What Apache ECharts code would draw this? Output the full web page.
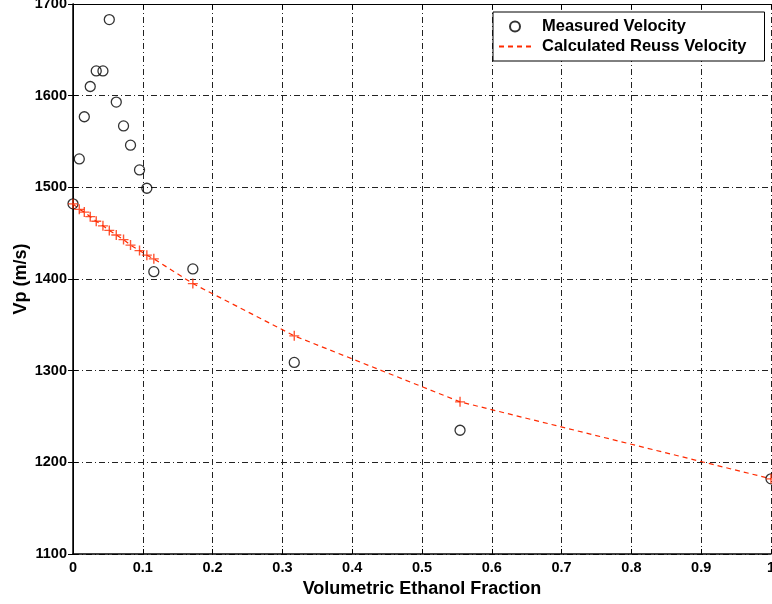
<!DOCTYPE html>
<html>
<head>
<meta charset="utf-8">
<script src="https://cdn.jsdelivr.net/npm/echarts@6/dist/echarts.min.js"></script>
<style>
  html, body { margin: 0; padding: 0; background: #fff; }
  #chart { width: 772px; height: 604px; }
</style>
</head>
<body>
<div id="chart"></div>
<script>
// ethanol fraction of each sample
var fraction = [0, 0.009, 0.0162, 0.0247, 0.0333, 0.0429, 0.052, 0.062, 0.0724,
                0.0824, 0.0953, 0.1058, 0.1158, 0.1717, 0.317, 0.5545, 1];
var measured = [1482, 1531, 1577, 1610, 1627, 1627, 1683, 1593, 1567,
                1546, 1519, 1499, 1408, 1411, 1309, 1235, 1182];
var reuss = [1482, 1476, 1473, 1468, 1463, 1458, 1453, 1448, 1443,
             1437, 1431, 1426, 1422, 1395, 1338, 1266, 1182];
var seriesNames = ['Measured Velocity', 'Calculated Reuss Velocity'];

var font = 'Liberation Sans, Arial, Helvetica, sans-serif';
var gridDash = [6, 3, 1, 3];

function pairs(xs, ys) {
    var out = [];
    for (var i = 0; i < xs.length; i++) out.push([xs[i], ys[i]]);
    return out;
}

var chart = echarts.init(document.getElementById('chart'));
chart.setOption({
    animation: false,
    backgroundColor: '#fff',
    grid: { left: 73, right: 1, top: 4, bottom: 50, outerBoundsMode: 'none', containLabel: false },
    legend: {
        data: [
            { name: seriesNames[0] },
            { name: seriesNames[1], itemStyle: { color: 'rgba(0,0,0,0)', borderWidth: 0, opacity: 0 } }
        ],
        orient: 'vertical',
        left: 493,
        top: 12,
        padding: [6, 18, 6, 5],
        itemWidth: 32,
        itemHeight: 10,
        itemGap: 3,
        backgroundColor: '#fff',
        borderColor: '#000',
        borderWidth: 1,
        textStyle: { fontFamily: font, fontWeight: 'bold', fontSize: 16.5, color: '#000', padding: [0, 0, 0, 6] }
    },
    xAxis: [{
        type: 'value',
        min: 0, max: 1, interval: 0.1,
        name: 'Volumetric Ethanol Fraction',
        nameLocation: 'middle',
        nameGap: 26,
        nameMoveOverlap: false,
        nameTextStyle: { fontFamily: font, fontWeight: 'bold', fontSize: 18, color: '#000' },
        axisLine: { lineStyle: { color: '#000', width: 1.5 } },
        axisTick: { inside: true, length: 5, lineStyle: { color: '#000' } },
        axisLabel: { margin: 6, fontFamily: font, fontWeight: 'bold', fontSize: 14.5, color: '#000' },
        splitLine: { show: true, lineStyle: { color: '#222', type: gridDash, width: 1 } }
    }, {
        type: 'value', position: 'top',
        min: 0, max: 1, interval: 0.1,
        axisLine: { lineStyle: { color: '#000', width: 1 } },
        axisTick: { inside: true, length: 5, lineStyle: { color: '#000' } },
        axisLabel: { show: false },
        splitLine: { show: false }
    }],
    yAxis: [{
        type: 'value',
        min: 1100, max: 1700, interval: 100,
        name: 'Vp (m/s)',
        nameLocation: 'middle',
        nameGap: 43,
        nameMoveOverlap: false,
        nameTextStyle: { fontFamily: font, fontWeight: 'bold', fontSize: 18, color: '#000' },
        axisLine: { show: true, lineStyle: { color: '#000', width: 1.5 } },
        axisTick: { show: true, inside: true, length: 5, lineStyle: { color: '#000' } },
        axisLabel: {
            margin: 6, fontFamily: font, fontWeight: 'bold', fontSize: 14.5, color: '#000',
            formatter: function (v) { return String(v); }
        },
        splitLine: { show: true, lineStyle: { color: '#222', type: gridDash, width: 1 } }
    }, {
        type: 'value', position: 'right',
        min: 1100, max: 1700, interval: 100,
        axisLine: { show: true, lineStyle: { color: '#000', width: 1 } },
        axisTick: { show: true, inside: true, length: 5, lineStyle: { color: '#000' } },
        axisLabel: { show: false },
        splitLine: { show: false }
    }],
    series: [
        {
            name: seriesNames[0],
            type: 'scatter',
            data: pairs(fraction, measured),
            symbol: 'circle',
            symbolSize: 10,
            itemStyle: { color: 'rgba(0,0,0,0)', borderColor: '#000', borderWidth: 1.3 },
            z: 3
        },
        {
            name: seriesNames[1],
            type: 'line',
            data: pairs(fraction, reuss),
            symbol: 'none',
            lineStyle: { color: '#ff2a00', width: 1.2, type: [5, 4] },
            itemStyle: { color: '#ff2a00' },
            z: 2
        },
        {
            // the '+' marks on the Reuss curve
            name: 'Reuss points',
            type: 'scatter',
            data: pairs(fraction, reuss),
            symbol: 'path://M0,-5L0,5M-5,0L5,0',
            symbolSize: 10,
            itemStyle: { color: 'rgba(0,0,0,0)', borderColor: '#ff2a00', borderWidth: 1.4 },
            z: 4
        }
    ]
});
</script>
</body>
</html>
